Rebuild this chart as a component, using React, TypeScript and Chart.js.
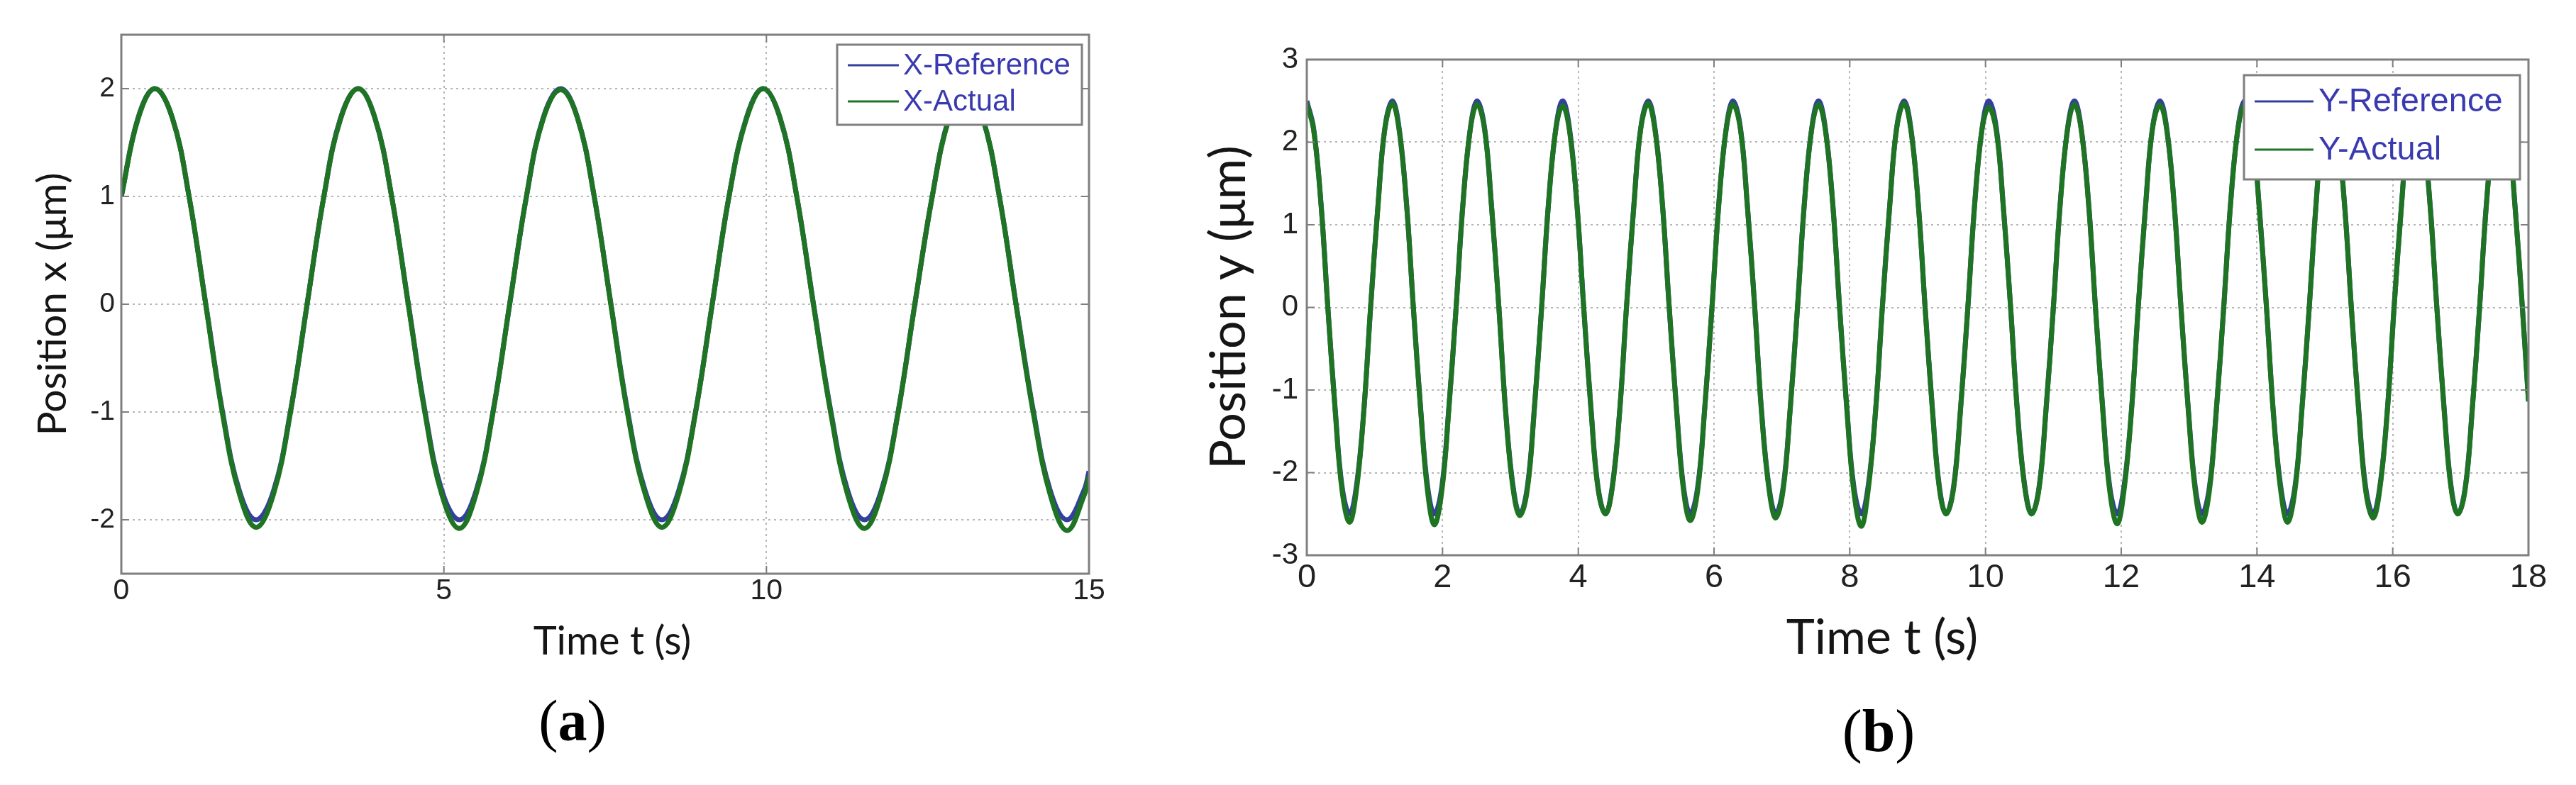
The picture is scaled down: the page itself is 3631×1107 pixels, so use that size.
import React, { useEffect, useRef } from 'react';
import { Chart, registerables } from 'chart.js';

Chart.register(...registerables);

// ---------------- DATA ----------------
// (a) X position vs time
const X_TIME = [
  0, 0.26, 0.52, 0.79, 1.05, 1.31, 1.57, 1.83, 2.09, 2.36, 2.62, 2.88,
  3.14, 3.40, 3.67, 3.93, 4.19, 4.45, 4.71, 4.97, 5.24, 5.50, 5.76, 6.02,
  6.28, 6.54, 6.81, 7.07, 7.33, 7.59, 7.85, 8.12, 8.38, 8.64, 8.90, 9.16,
  9.42, 9.69, 9.95, 10.21, 10.47, 10.73, 11.00, 11.26, 11.52, 11.78, 12.04, 12.30,
  12.57, 12.83, 13.09, 13.35, 13.61, 13.87, 14.14, 14.40, 14.66, 14.92, 15.0,
];
const X_REF = [
  1, 1.73, 2, 1.73, 1, 0, -1, -1.73, -2, -1.73, -1, 0,
  1, 1.73, 2, 1.73, 1, 0, -1, -1.73, -2, -1.73, -1, 0,
  1, 1.73, 2, 1.73, 1, 0, -1, -1.73, -2, -1.73, -1, 0,
  1, 1.73, 2, 1.73, 1, 0, -1, -1.73, -2, -1.73, -1, 0,
  1, 1.73, 2, 1.73, 1, 0, -1, -1.73, -2, -1.73, -1.55,
];
const X_ACT = [
  1, 1.72, 2, 1.73, 1, -0.01, -1.02, -1.76, -2.07, -1.76, -1.01, 0,
  1, 1.72, 2, 1.73, 1, -0.01, -1.02, -1.77, -2.08, -1.76, -1.01, 0,
  1, 1.72, 1.99, 1.73, 1, -0.01, -1.02, -1.76, -2.07, -1.76, -1.01, 0,
  1, 1.72, 2, 1.73, 1, -0.01, -1.02, -1.77, -2.08, -1.76, -1.01, 0,
  1, 1.72, 2, 1.73, 1, -0.01, -1.02, -1.77, -2.1, -1.78, -1.6,
];
const X_XTICKS = [0, 5, 10, 15];
const X_YTICKS = [-2, -1, 0, 1, 2];

// (b) Y position vs time
const Y_TIME = [
  0, 0.10, 0.21, 0.31, 0.42, 0.52, 0.63, 0.73, 0.84, 0.94, 1.05, 1.15,
  1.26, 1.36, 1.47, 1.57, 1.68, 1.78, 1.88, 1.99, 2.09, 2.20, 2.30, 2.41,
  2.51, 2.62, 2.72, 2.83, 2.93, 3.04, 3.14, 3.25, 3.35, 3.46, 3.56, 3.67,
  3.77, 3.87, 3.98, 4.08, 4.19, 4.29, 4.40, 4.50, 4.61, 4.71, 4.82, 4.92,
  5.03, 5.13, 5.24, 5.34, 5.45, 5.55, 5.65, 5.76, 5.86, 5.97, 6.07, 6.18,
  6.28, 6.39, 6.49, 6.60, 6.70, 6.81, 6.91, 7.02, 7.12, 7.23, 7.33, 7.44,
  7.54, 7.64, 7.75, 7.85, 7.96, 8.06, 8.17, 8.27, 8.38, 8.48, 8.59, 8.69,
  8.80, 8.90, 9.01, 9.11, 9.22, 9.32, 9.42, 9.53, 9.63, 9.74, 9.84, 9.95,
  10.05, 10.16, 10.26, 10.37, 10.47, 10.58, 10.68, 10.79, 10.89, 11.00, 11.10, 11.21,
  11.31, 11.41, 11.52, 11.62, 11.73, 11.83, 11.94, 12.04, 12.15, 12.25, 12.36, 12.46,
  12.57, 12.67, 12.78, 12.88, 12.99, 13.09, 13.19, 13.30, 13.40, 13.51, 13.61, 13.72,
  13.82, 13.93, 14.03, 14.14, 14.24, 14.35, 14.45, 14.56, 14.66, 14.77, 14.87, 14.97,
  15.08, 15.18, 15.29, 15.39, 15.50, 15.60, 15.71, 15.81, 15.92, 16.02, 16.13, 16.23,
  16.34, 16.44, 16.55, 16.65, 16.76, 16.86, 16.96, 17.07, 17.17, 17.28, 17.38, 17.49,
  17.59, 17.70, 17.80, 17.91, 18.0,
];
const Y_REF = [
  2.5, 2.17, 1.25, 0, -1.25, -2.17, -2.5, -2.17, -1.25, 0, 1.25, 2.17,
  2.5, 2.17, 1.25, 0, -1.25, -2.17, -2.5, -2.17, -1.25, 0, 1.25, 2.17,
  2.5, 2.17, 1.25, 0, -1.25, -2.17, -2.5, -2.17, -1.25, 0, 1.25, 2.17,
  2.5, 2.17, 1.25, 0, -1.25, -2.17, -2.5, -2.17, -1.25, 0, 1.25, 2.17,
  2.5, 2.17, 1.25, 0, -1.25, -2.17, -2.5, -2.17, -1.25, 0, 1.25, 2.17,
  2.5, 2.17, 1.25, 0, -1.25, -2.17, -2.5, -2.17, -1.25, 0, 1.25, 2.17,
  2.5, 2.17, 1.25, 0, -1.25, -2.17, -2.5, -2.17, -1.25, 0, 1.25, 2.17,
  2.5, 2.17, 1.25, 0, -1.25, -2.17, -2.5, -2.17, -1.25, 0, 1.25, 2.17,
  2.5, 2.17, 1.25, 0, -1.25, -2.17, -2.5, -2.17, -1.25, 0, 1.25, 2.17,
  2.5, 2.17, 1.25, 0, -1.25, -2.17, -2.5, -2.17, -1.25, 0, 1.25, 2.17,
  2.5, 2.17, 1.25, 0, -1.25, -2.17, -2.5, -2.17, -1.25, 0, 1.25, 2.17,
  2.5, 2.17, 1.25, 0, -1.25, -2.17, -2.5, -2.17, -1.25, 0, 1.25, 2.17,
  2.5, 2.17, 1.25, 0, -1.25, -2.17, -2.5, -2.17, -1.25, 0, 1.25, 2.17,
  2.5, 2.17, 1.25, 0, -1.25, -2.17, -2.5, -2.17, -1.25, 0, 1.25, 2.17,
  2.5, 2.17, 1.25, 0, -1.12,
];
const Y_ACT = [
  2.47, 2.15, 1.24, 0, -1.27, -2.22, -2.6, -2.22, -1.26, 0, 1.24, 2.16,
  2.47, 2.15, 1.24, 0, -1.27, -2.23, -2.63, -2.22, -1.26, 0, 1.24, 2.16,
  2.46, 2.15, 1.24, 0, -1.27, -2.2, -2.52, -2.2, -1.26, 0, 1.24, 2.16,
  2.44, 2.14, 1.24, 0, -1.27, -2.19, -2.5, -2.19, -1.26, 0, 1.24, 2.16,
  2.47, 2.15, 1.24, 0, -1.27, -2.21, -2.58, -2.21, -1.26, 0, 1.24, 2.16,
  2.46, 2.15, 1.24, 0, -1.27, -2.2, -2.55, -2.2, -1.26, 0, 1.24, 2.16,
  2.46, 2.15, 1.24, 0, -1.27, -2.23, -2.65, -2.22, -1.26, 0, 1.24, 2.16,
  2.47, 2.15, 1.24, 0, -1.27, -2.19, -2.5, -2.19, -1.26, 0, 1.24, 2.16,
  2.42, 2.13, 1.24, 0, -1.27, -2.19, -2.5, -2.19, -1.26, 0, 1.24, 2.16,
  2.46, 2.15, 1.24, 0, -1.27, -2.22, -2.62, -2.22, -1.26, 0, 1.24, 2.16,
  2.45, 2.15, 1.24, 0, -1.27, -2.22, -2.6, -2.21, -1.26, 0, 1.24, 2.16,
  2.45, 2.15, 1.24, 0, -1.27, -2.22, -2.6, -2.21, -1.26, 0, 1.24, 2.16,
  2.46, 2.15, 1.24, 0, -1.27, -2.21, -2.55, -2.2, -1.26, 0, 1.24, 2.16,
  2.46, 2.15, 1.24, 0, -1.27, -2.19, -2.5, -2.19, -1.26, 0, 1.24, 2.16,
  2.46, 2.15, 1.24, 0, -1.14,
];
const Y_XTICKS = [0, 2, 4, 6, 8, 10, 12, 14, 16, 18];
const Y_YTICKS = [-3, -2, -1, 0, 1, 2, 3];

// ---------------- STYLE ----------------
const BLUE = '#34409c';
const GREEN = '#1f7424';
const LEGEND_TEXT = '#3a3ab0';
const AXIS_GRAY = '#7f7f7f';
const GRID_GRAY = '#b6b6b6';
const TICK_FONT = "'Liberation Sans', Arial, sans-serif";
const TITLE_FONT = "Lato, 'Open Sans', sans-serif";

const zip = (t: number[], v: number[]) => t.map((x, i) => ({ x, y: v[i] }));

const framePlugin = {
  id: 'matlabFrame',
  afterDatasetsDraw(chart: any, _args: any, opts: any) {
    const { ctx, chartArea: ca, scales } = chart;
    ctx.save();
    ctx.strokeStyle = AXIS_GRAY;
    ctx.lineWidth = 2;
    const tl = opts.tickLen;
    ctx.beginPath();
    scales.x.ticks.forEach((t: any) => {
      const px = scales.x.getPixelForValue(t.value);
      ctx.moveTo(px, ca.bottom);
      ctx.lineTo(px, ca.bottom - tl);
      ctx.moveTo(px, ca.top);
      ctx.lineTo(px, ca.top + tl);
    });
    scales.y.ticks.forEach((t: any) => {
      const py = scales.y.getPixelForValue(t.value);
      ctx.moveTo(ca.left, py);
      ctx.lineTo(ca.left + tl, py);
      ctx.moveTo(ca.right, py);
      ctx.lineTo(ca.right - tl, py);
    });
    ctx.stroke();
    ctx.lineWidth = 3;
    ctx.strokeRect(ca.left, ca.top, ca.right - ca.left, ca.bottom - ca.top);
    ctx.restore();
  },
  afterDraw(chart: any, _args: any, opts: any) {
    const ctx = chart.ctx;
    const XT = opts.xTitle;
    if (XT) {
      ctx.save();
      ctx.font = `${XT.size}px ${TITLE_FONT}`;
      ctx.fillStyle = '#151515';
      ctx.textAlign = 'center';
      ctx.textBaseline = 'middle';
      ctx.fillText(XT.text, XT.cx, XT.cy);
      ctx.restore();
    }
    const L = opts.legend;
    if (!L) return;
    ctx.save();
    ctx.fillStyle = '#ffffff';
    ctx.fillRect(L.x, L.y, L.w, L.h);
    ctx.strokeStyle = AXIS_GRAY;
    ctx.lineWidth = 3;
    ctx.strokeRect(L.x, L.y, L.w, L.h);
    ctx.font = `${L.fontSize}px ${TICK_FONT}`;
    ctx.textBaseline = 'middle';
    ctx.textAlign = 'left';
    chart.data.datasets.forEach((ds: any, i: number) => {
      const y = L.rows[i];
      ctx.strokeStyle = ds.borderColor;
      ctx.lineWidth = 3;
      ctx.beginPath();
      ctx.moveTo(L.lineX1, y);
      ctx.lineTo(L.lineX2, y);
      ctx.stroke();
      ctx.fillStyle = LEGEND_TEXT;
      ctx.fillText(ds.label, L.textX, y + 1);
    });
    ctx.restore();
  },
};

function buildConfig(p: any) {
  const setTicks = (vals: number[]) => (s: any) => {
    s.ticks = vals.map((v) => ({ value: v }));
  };
  return {
    type: 'line',
    data: {
      datasets: [
        {
          label: p.refLabel,
          data: zip(p.time, p.ref),
          borderColor: BLUE,
          borderWidth: p.lw,
          pointRadius: 0,
          tension: 0.4,
          fill: false,
          order: 2,
        },
        {
          label: p.actLabel,
          data: zip(p.time, p.act),
          borderColor: GREEN,
          borderWidth: p.lw,
          pointRadius: 0,
          tension: 0.4,
          fill: false,
          order: 1,
        },
      ],
    },
    options: {
      animation: false,
      responsive: false,
      maintainAspectRatio: false,
      layout: { padding: p.padding },
      plugins: {
        legend: { display: false },
        tooltip: { enabled: false },
        matlabFrame: {
          tickLen: 11,
          legend: p.legend,
          xTitle: { text: p.xTitle, size: p.xTitleSize, cx: p.xTitleX, cy: p.xTitleY },
        },
      },
      scales: {
        x: {
          type: 'linear',
          min: p.xMin,
          max: p.xMax,
          afterBuildTicks: setTicks(p.xTicks),
          afterFit: (s: any) => {
            s.height = p.xAxisH;
          },
          grid: { color: GRID_GRAY, lineWidth: 2, drawTicks: false },
          border: { display: false, dash: [3, 5] },
          ticks: {
            font: { family: TICK_FONT, size: p.xTickSize },
            color: '#222222',
            padding: p.xTickPad,
            maxRotation: 0,
          },
          title: { display: false },
        },
        y: {
          type: 'linear',
          min: p.yMin,
          max: p.yMax,
          afterBuildTicks: setTicks(p.yTicks),
          afterFit: (s: any) => {
            s.width = p.yAxisW;
          },
          grid: { color: GRID_GRAY, lineWidth: 2, drawTicks: false },
          border: { display: false, dash: [3, 5] },
          ticks: {
            font: { family: TICK_FONT, size: p.yTickSize },
            color: '#222222',
            padding: p.yTickPad,
          },
          title: {
            display: true,
            text: p.yTitle,
            font: { family: TITLE_FONT, size: p.yTitleSize },
            color: '#151515',
            padding: { top: p.yTitlePad, bottom: 0 },
          },
        },
      },
    },
    plugins: [framePlugin],
  };
}

const LEFT_PARAMS = {
  time: X_TIME,
  ref: X_REF,
  act: X_ACT,
  refLabel: 'X-Reference',
  actLabel: 'X-Actual',
  xMin: 0,
  xMax: 15,
  yMin: -2.5,
  yMax: 2.5,
  xTicks: X_XTICKS,
  yTicks: X_YTICKS,
  lw: 7,
  padding: { left: 0, top: 49, right: 105, bottom: 168 },
  yAxisW: 171,
  xAxisH: 130,
  xTickSize: 41,
  xTickPad: 0,
  yTickSize: 39,
  yTickPad: 9,
  xTitle: 'Time t (s)',
  xTitleSize: 56,
  xTitleX: 863,
  xTitleY: 905,
  yTitle: 'Position x (μm)',
  yTitleSize: 57,
  yTitlePad: 40,
  legend: { x: 1180, y: 63, w: 345, h: 113, lineX1: 1195, lineX2: 1267, rows: [92, 143], textX: 1273, fontSize: 42 },
};

const RIGHT_PARAMS = {
  time: Y_TIME,
  ref: Y_REF,
  act: Y_ACT,
  refLabel: 'Y-Reference',
  actLabel: 'Y-Actual',
  xMin: 0,
  xMax: 18,
  yMin: -3,
  yMax: 3,
  xTicks: Y_XTICKS,
  yTicks: Y_YTICKS,
  lw: 7,
  padding: { left: 0, top: 84, right: 67, bottom: 166 },
  yAxisW: 202,
  xAxisH: 158,
  xTickSize: 47,
  xTickPad: 4,
  yTickSize: 42,
  yTickPad: 12,
  xTitle: 'Time t (s)',
  xTitleSize: 68,
  xTitleX: 1013,
  xTitleY: 900,
  yTitle: 'Position y (μm)',
  yTitleSize: 70,
  yTitlePad: 50,
  legend: { x: 1523, y: 106, w: 389, h: 147, lineX1: 1538, lineX2: 1621, rows: [143, 211], textX: 1628, fontSize: 47 },
};

function ChartCanvas({ params, left, width }: { params: any; left: number; width: number }) {
  const ref = useRef<HTMLCanvasElement | null>(null);
  useEffect(() => {
    if (!ref.current) return;
    const chart = new Chart(ref.current, buildConfig(params) as any);
    return () => chart.destroy();
  }, [params]);
  return (
    <canvas
      ref={ref}
      width={width}
      height={1107}
      style={{ position: 'absolute', left, top: 0, width, height: 1107 }}
    />
  );
}

export default function App() {
  useEffect(() => {
    document.body.style.margin = '0';
    document.body.style.background = '#ffffff';
  }, []);
  const labelStyle = (cx: number, cy: number, size: number): React.CSSProperties => ({
    position: 'absolute',
    left: cx,
    top: cy,
    transform: 'translate(-50%, -50%)',
    fontFamily: "'Liberation Serif', 'Times New Roman', serif",
    fontSize: size,
    lineHeight: 1,
    color: '#000',
    whiteSpace: 'nowrap',
  });
  return (
    <div style={{ position: 'relative', width: 3631, height: 1107, background: '#fff', overflow: 'hidden' }}>
      <ChartCanvas params={LEFT_PARAMS} left={0} width={1640} />
      <ChartCanvas params={RIGHT_PARAMS} left={1640} width={1991} />
      <div style={labelStyle(807, 1017, 82)}>
        (<b>a</b>)
      </div>
      <div style={labelStyle(2648, 1031, 84)}>
        (<b>b</b>)
      </div>
    </div>
  );
}
